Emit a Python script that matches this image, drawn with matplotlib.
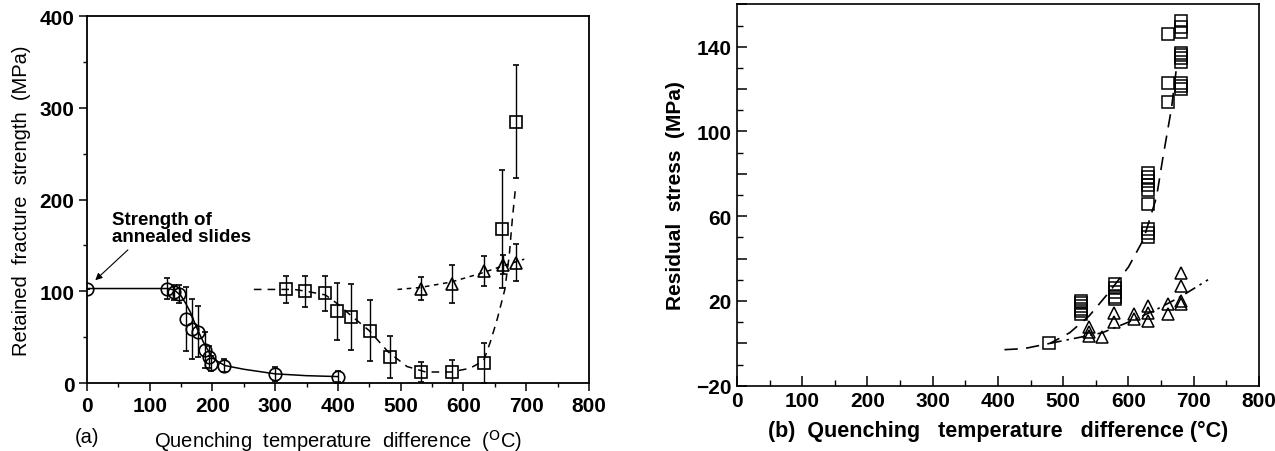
import matplotlib
matplotlib.use("Agg")
import matplotlib.pyplot as plt
from matplotlib.ticker import MultipleLocator, FuncFormatter

plt.rcParams["font.family"] = ["Liberation Sans", "DejaVu Sans"]

# ---- panel (a): retained fracture strength ----
circ_x = [0, 127, 138, 146, 158, 167, 177, 188, 195, 198, 219, 299, 400]
circ_y = [103, 103, 99, 97, 70, 59, 56, 36, 28, 21, 19, 10, 7]
circ_err = [0, 11, 8, 10, 35, 33, 28, 20, 12, 8, 7, 8, 6]
circ_fit_x = [0, 130, 140, 150, 158, 165, 175, 186, 196, 207, 220, 250, 300, 350, 400]
circ_fit_y = [103, 103, 101, 95, 86, 77, 60, 44, 32, 24, 19, 15, 10, 8, 7]

sq_x = [318, 348, 379, 399, 421, 451, 483, 533, 582, 632, 661, 683]
sq_y = [102, 100, 98, 78, 72, 57, 28, 12, 12, 22, 168, 285]
sq_err = [15, 17, 19, 31, 36, 33, 23, 11, 13, 22, 64, 62]
sq_fit_x = [266, 300, 330, 350, 380, 400, 420, 450, 480, 510, 540, 580, 610, 632, 643, 654, 666, 673, 678, 683]
sq_fit_y = [102, 102, 102, 100, 96, 86, 74, 57, 34, 18, 12, 12, 16, 24, 45, 70, 102, 139, 179, 213]

tri_x = [532, 582, 632, 663, 684]
tri_y = [103, 108, 122, 129, 131]
tri_err = [13, 21, 16, 10, 20]
tri_fit_x = [495, 530, 580, 630, 660, 697]
tri_fit_y = [102, 104, 110, 120, 127, 135]

# ---- panel (b): residual stress ----
rsq_x = ([479] + [528] * 6 + [580] * 5 + [630] * 9 + [660] * 3 + [680] * 10)
rsq_y = ([0]
         + [20, 18.8, 17.6, 16.4, 15.2, 14]
         + [28, 26, 24, 22, 21]
         + [50, 52, 54, 66, 72.5, 74.5, 76.5, 78.5, 80.5]
         + [114, 123, 146]
         + [120, 121.5, 123, 133, 134.5, 136, 137, 147, 149.5, 152])
rtri_x = ([540] * 3 + [559] + [578] * 2 + [608] * 2 + [630] * 3 + [660] * 2 + [680] * 4)
rtri_y = ([7.5, 5.5, 3.5] + [3] + [14.5, 10] + [13.7, 11.5]
          + [17.5, 14.5, 10.6] + [18.5, 13.7] + [33.4, 27, 20, 18.5])
rsq_fit_x = [410, 440, 480, 510, 540, 570, 600, 623, 643, 653, 666, 674]
rsq_fit_y = [-3, -2.5, 0, 5, 13, 24, 36, 49, 69, 88, 111, 131]
rtri_fit_x = [480, 520, 560, 600, 640, 680, 722]
rtri_fit_y = [0, 2.5, 5, 10, 15.5, 22, 30]

fig = plt.figure(figsize=(12.75, 4.52), dpi=100)
ax1 = fig.add_axes([0.0682, 0.1504, 0.3937, 0.8119])
ax2 = fig.add_axes([0.578, 0.1445, 0.4094, 0.8436])

mk = dict(mfc="none", mec="black", mew=1.2, ecolor="black", elinewidth=1.0,
          capsize=2, capthick=1.0, linestyle="none")

# panel (a)
ax1.plot(circ_fit_x, circ_fit_y, color="black", lw=1.1)
ax1.plot(sq_fit_x, sq_fit_y, color="black", lw=1.1, ls=(0, (5, 4)))
ax1.plot(tri_fit_x, tri_fit_y, color="black", lw=1.1, ls=(0, (3, 3)))
ax1.errorbar(circ_x, circ_y, yerr=circ_err, marker="o", ms=9, **mk)
ax1.errorbar(sq_x, sq_y, yerr=sq_err, marker="s", ms=8.5, **mk)
ax1.errorbar(tri_x, tri_y, yerr=tri_err, marker="^", ms=9, **mk)

ax1.set_xlim(0, 800)
ax1.set_ylim(0, 400)
ax1.xaxis.set_major_locator(MultipleLocator(100))
ax1.xaxis.set_minor_locator(MultipleLocator(50))
ax1.yaxis.set_major_locator(MultipleLocator(100))
ax1.yaxis.set_minor_locator(MultipleLocator(50))
ax1.tick_params(which="major", direction="out", length=6, width=1.1,
                labelsize=15, pad=3)
ax1.tick_params(which="minor", direction="out", length=3, width=1.0)
for lab in ax1.get_xticklabels() + ax1.get_yticklabels():
    lab.set_fontweight("bold")
for sp in ax1.spines.values():
    sp.set_linewidth(1.3)
ax1.set_ylabel("Retained  fracture  strength  (MPa)", fontsize=14.5, labelpad=6)
ax1.set_xlabel(r"Quenching  temperature  difference  ($^{\mathrm{O}}$C)",
               fontsize=14.5, labelpad=9)
ax1.text(0, -0.145, "(a)", transform=ax1.get_xaxis_transform(), fontsize=14.5,
         ha="center", va="center")
ax1.annotate("Strength of\nannealed slides", xy=(10, 110), xytext=(40, 188),
             fontsize=13.5, fontweight="bold", va="top", ha="left",
             linespacing=1.05,
             arrowprops=dict(arrowstyle="-|>", color="black", lw=0.8,
                             mutation_scale=10,
                             relpos=(0.15, 0.0),
                             shrinkA=2, shrinkB=2))

# panel (b)
ax2.plot(rsq_fit_x, rsq_fit_y, color="black", lw=1.2, ls=(0, (8, 5)))
ax2.plot(rtri_fit_x, rtri_fit_y, color="black", lw=1.2, ls=(0, (7, 3, 1.5, 3)))
ax2.plot(rsq_x, rsq_y, marker="s", ms=8.5, mfc="none", mec="black", mew=1.1,
         ls="none")
ax2.plot(rtri_x, rtri_y, marker="^", ms=9, mfc="none", mec="black", mew=1.1,
         ls="none")


def stress_label(v, pos):
    n = int(round(v))
    if n % 40 == 20 or n == -20:
        return f"{n}".replace("-", "\u2212")
    return ""


ax2.set_xlim(0, 800)
ax2.set_ylim(-20, 160)
ax2.xaxis.set_major_locator(MultipleLocator(100))
ax2.xaxis.set_minor_locator(MultipleLocator(50))
ax2.yaxis.set_major_locator(MultipleLocator(20))
ax2.yaxis.set_minor_locator(MultipleLocator(10))
ax2.yaxis.set_major_formatter(FuncFormatter(stress_label))
ax2.tick_params(which="major", direction="in", length=7, width=1.1,
                labelsize=15, pad=4, top=False, right=False)
ax2.tick_params(which="minor", direction="in", length=4, width=1.0,
                top=False, right=False)
for lab in ax2.get_xticklabels() + ax2.get_yticklabels():
    lab.set_fontweight("bold")
for sp in ax2.spines.values():
    sp.set_linewidth(1.2)
ax2.set_ylabel("Residual  stress  (MPa)", fontsize=15, fontweight="bold",
               labelpad=8)
ax2.set_xlabel("(b)  Quenching   temperature   difference (°C)", fontsize=15.5,
               fontweight="bold", labelpad=7)

fig.savefig("out.png", dpi=100)
